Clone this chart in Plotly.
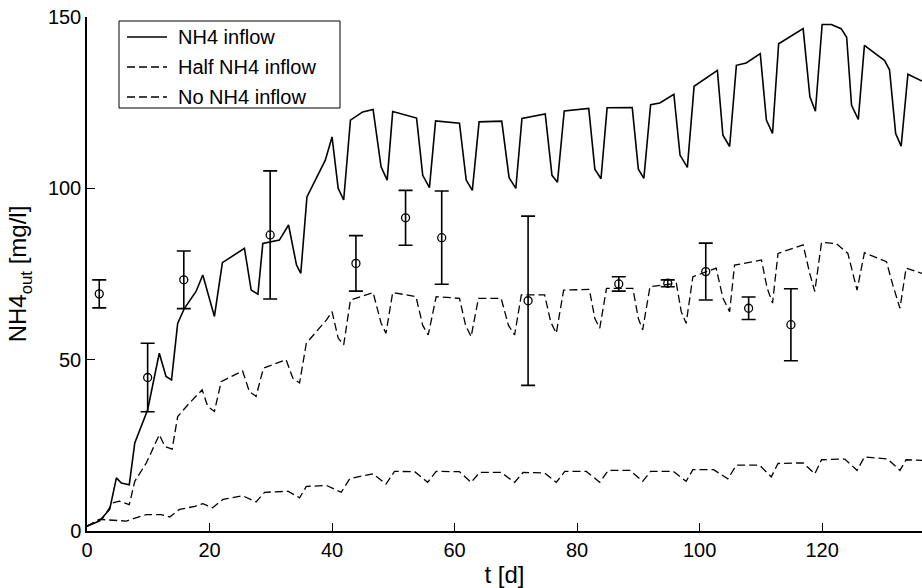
import plotly.graph_objects as go

# simulated outflow, full NH4 inflow
t_full = [0, 2, 3.7, 4.8, 5.6, 6.9, 7.8, 8.6, 9.9, 11.8, 12.9, 13.8, 14.8, 15.9, 17.8, 18.9,
          20.8, 22.1, 25.7, 26.8, 27.9, 28.7, 31.4, 32.9, 34.2, 34.9, 35.9, 38.9, 40, 41, 41.9,
          43, 45, 46.7, 48, 49, 49.9, 53.8, 54.8, 55.9, 56.9, 60.8, 61.9, 62.9, 64, 67.7, 68.9,
          70, 71, 74.8, 75.9, 76.8, 77.9, 81.9, 82.9, 83.9, 84.9, 89, 90, 90.9, 92, 93.5, 95.8,
          96.8, 98, 99.1, 102.9, 103.8, 104.9, 106, 107.6, 109.9, 110.9, 111.9, 112.9, 116.9,
          118, 118.9, 120, 121.5, 123.1, 124, 124.8, 125.9, 126.9, 130.2, 131, 132, 132.9, 134,
          136.3]
nh4_full = [1.4, 2.9, 6.3, 15.5, 14, 13.5, 25.7, 29.6, 35.4, 51.9, 45.1, 44.1, 60.6, 65, 69.9,
            74.7, 62.6, 78.3, 82.5, 70.3, 69.1, 83.9, 84.9, 89.3, 77.6, 75.2, 97.5, 108.2, 115,
            100, 96.6, 119.9, 122.3, 123, 106.3, 102.4, 122.4, 120.5, 103.8, 100.2, 119.7, 119,
            102.4, 99.4, 119.4, 119.6, 103.1, 100, 120.4, 121.7, 103.8, 101.8, 122.6, 123.3,
            105.6, 102.8, 123.5, 123.6, 105.6, 102.9, 124.4, 124.9, 127.4, 109.7, 106.1, 129.8,
            134.4, 115.5, 112.2, 135.9, 136.6, 139.3, 119.9, 116, 142.2, 146.6, 126.7, 122.5,
            147.8, 147.8, 146.6, 144.1, 124.2, 120.1, 141.7, 137.3, 134.6, 116, 112.3, 133.3,
            131.3]

# half NH4 inflow
t_half = [0, 2.6, 4.2, 5.3, 6.9, 7.8, 9.7, 11.8, 12.7, 13.9, 14.8, 16.7, 18.8, 19.7, 20.8, 21.9,
          25.4, 26.5, 27.6, 28.8, 32.5, 33.6, 34.7, 35.8, 39.1, 40, 41, 41.9, 43, 46.7, 48, 48.8,
          49.9, 53.7, 54.8, 55.7, 57, 60.8, 61.8, 62.7, 63.9, 67.6, 68.8, 69.8, 70.9, 74.7,
          75.7, 76.6, 77.8, 82, 82.9, 83.7, 84.8, 89.1, 90, 90.7, 91.9, 96.2, 97, 97.8, 98.9,
          102.7, 103.8, 104.9, 105.7, 110.1, 111, 111.9, 112.8, 116.9, 118, 118.8, 119.9, 122.3,
          124.2, 125, 125.7, 126.9, 130.5, 131.5, 132.7, 133.7, 136.3]
nh4_half = [1.4, 3.8, 8.2, 8.7, 7.7, 14.5, 19.9, 28.1, 24.7, 23.9, 33.4, 37.3, 41.2, 36.4, 34.9,
            43.6, 46.7, 40.7, 39.3, 47.5, 50, 44.6, 43.2, 54.8, 61.6, 64, 56.3, 54.3, 67.4, 69.6,
            60.7, 57.7, 69.6, 68.4, 60, 57.2, 68.4, 67.9, 60, 56.7, 67.9, 67.9, 60, 57.2, 68.9,
            68.9, 61, 57.7, 70.3, 70.5, 62, 59.2, 70.8, 70.8, 62, 58.7, 71.3, 72.3, 64, 60.6,
            74.2, 76.7, 68, 64, 77.6, 79.1, 71, 66.5, 81, 83.5, 75, 69.9, 84.2, 83.9, 81, 75,
            70.3, 81.2, 78.6, 72, 65, 76.7, 75.2]

# no NH4 inflow
t_none = [0, 2, 6.4, 9.7, 12.1, 13.5, 15.1, 17.6, 18.9, 20.5, 22.2, 25.4, 27.6, 29, 32.8, 34.7,
          35.8, 39.1, 41.5, 42.9, 46.7, 48.8, 50.2, 53.5, 55.6, 57, 60.8, 62.7, 64.1, 67.6,
          69.8, 71.2, 74.7, 76.6, 78, 81.5, 83.7, 85.1, 88.6, 90.7, 92, 95.7, 97.8, 98.9, 102.3,
          104.6, 106, 109.8, 111.7, 112.8, 116.9, 118.8, 119.9, 123.7, 125.7, 126.9, 130.7,
          132.7, 133.7, 136.3]
nh4_none = [1.4, 3.4, 2.9, 4.8, 4.8, 4.1, 6.3, 7.2, 8, 6.8, 9.2, 10.3, 8.5, 11.3, 11.6, 9.7, 13,
            13.3, 11.3, 15.3, 16.7, 13.7, 17.4, 17.3, 14.2, 17.4, 17.3, 14.2, 17.1, 17.1, 14.2,
            17.1, 16.9, 14.2, 17.4, 17.4, 14.2, 17.7, 17.7, 14.5, 17.4, 17.4, 14.5, 17.9, 17.9,
            15.2, 19.2, 19.2, 15.8, 19.7, 19.9, 16.7, 20.8, 21, 17.7, 21.6, 21, 17.7, 20.8, 20.6]

# measurements with error bars
t_meas = [2, 9.9, 15.8, 29.9, 43.9, 52, 57.9, 72, 86.8, 94.8, 101, 108, 114.9]
nh4_meas = [69.2, 44.8, 73.3, 86.4, 78.1, 91.4, 85.6, 67.2, 72.1, 72.3, 75.7, 65, 60.2]
nh4_err = [4.1, 10, 8.4, 18.7, 8.1, 8, 13.6, 24.7, 2.1, 1, 8.3, 3.3, 10.5]

legend_names = ["NH4 inflow", "Half NH4 inflow", "No NH4 inflow"]
legend_dash = ["solid", "8px,4px", "8px,4px"]

x_ticks = [0, 20, 40, 60, 80, 100, 120]
y_ticks = [0, 50, 100, 150]

FONT = "Liberation Sans, Arial, sans-serif"
W, H = 922, 588
ML, MR, MT, MB = 87, 0, 17, 57


def px(x):
    return (x - ML) / (W - ML - MR)


def py(y):
    return 1 - (y - MT) / (H - MT - MB)


fig = go.Figure()
series = [(t_full, nh4_full, 1.6), (t_half, nh4_half, 1.3), (t_none, nh4_none, 1.3)]
for (tx, vy, lw), name, dash in zip(series, legend_names, legend_dash):
    fig.add_trace(go.Scatter(x=tx, y=vy, mode="lines", name=name, showlegend=False,
                             line=dict(color="black", width=lw, dash=dash)))
fig.add_trace(go.Scatter(
    x=t_meas, y=nh4_meas, mode="markers", showlegend=False,
    marker=dict(symbol="circle-open", size=8, color="black", line=dict(width=1.3)),
    error_y=dict(type="data", array=nh4_err, color="black", thickness=1.6, width=7),
))

# legend box drawn by hand so it matches the original's spacing
fig.add_shape(type="rect", xref="paper", yref="paper", x0=px(119), x1=px(340),
              y0=py(108), y1=py(21), line=dict(color="black", width=1),
              fillcolor="white", layer="above")
for i, (name, dash) in enumerate(zip(legend_names, legend_dash)):
    row = 37 + 30 * i
    fig.add_shape(type="line", xref="paper", yref="paper", x0=px(127), x1=px(167),
                  y0=py(row), y1=py(row),
                  line=dict(color="black", width=1.6 if i == 0 else 1.3, dash=dash))
    fig.add_annotation(text=name, xref="paper", yref="paper", x=px(176), y=py(row),
                       xanchor="left", yanchor="middle", showarrow=False,
                       font=dict(size=20))

fig.update_layout(
    width=W, height=H,
    margin=dict(l=ML, r=MR, t=MT, b=MB),
    plot_bgcolor="white", paper_bgcolor="white",
    font=dict(family=FONT, size=20, color="black"),
    xaxis=dict(range=[0, 136.3], tickvals=x_ticks, ticks="inside", ticklen=8,
               tickwidth=1.3, tickcolor="black", showline=True, linecolor="black",
               linewidth=1.5, showgrid=False, zeroline=False,
               title=dict(text="t [d]", standoff=6)),
    yaxis=dict(range=[0, 150], tickvals=y_ticks, ticks="inside", ticklen=8,
               tickwidth=1.3, tickcolor="black", showline=True, linecolor="black",
               linewidth=1.5, showgrid=False, zeroline=False,
               title=dict(text="NH4<sub>out</sub> [mg/l]", standoff=14)),
)

fig.write_html("out.html", config={"displayModeBar": False},
               post_script="document.body.style.margin='0px';")
